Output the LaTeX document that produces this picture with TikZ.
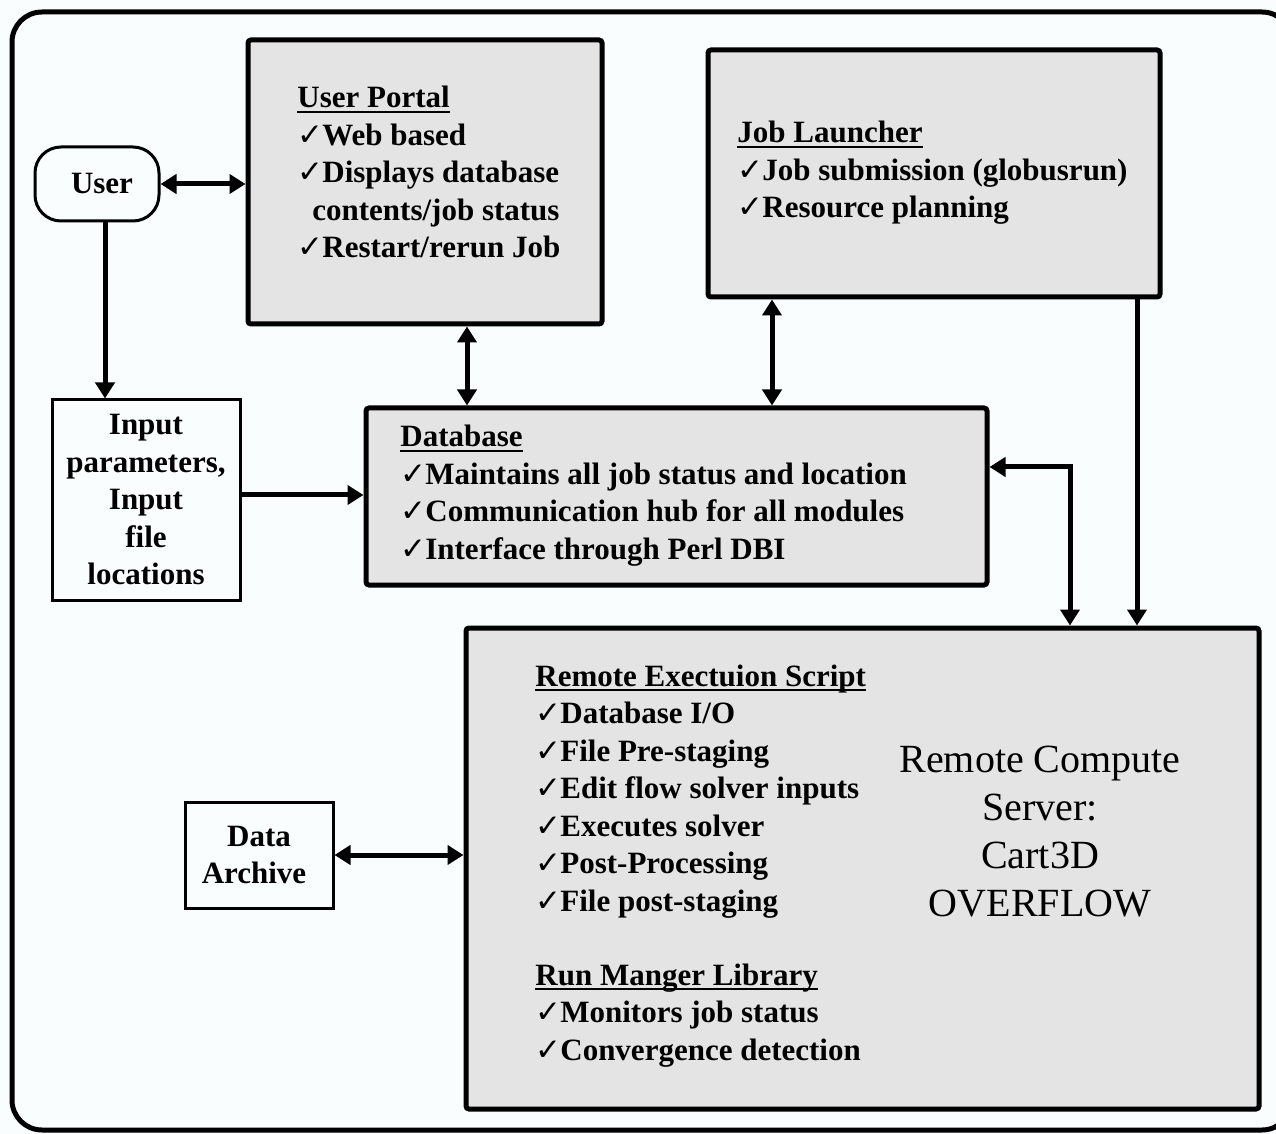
\documentclass[tikz,border=0pt]{standalone}
\usepackage{fontspec}
\setmainfont{Liberation Serif}
\newfontfamily\ckfont{DejaVu Sans}
\usetikzlibrary{arrows.meta}
\definecolor{boxgray}{RGB}{228,228,228}
\definecolor{bgc}{RGB}{250,253,253}
\newcommand\ck{{\ckfont\char"2713}\kern-0.5pt}
\newcommand\ulx[1]{\setbox0\hbox{#1}\rlap{\rule[-2.5pt]{\wd0}{1pt}}\box0}
\newcommand\btxt{\fontsize{15.5pt}{18.75pt}\selectfont\bfseries}
\newcommand\rtxt{\fontsize{20pt}{24pt}\selectfont}
\begin{document}
\begin{tikzpicture}[x=0.5pt,y=-0.5pt,
  bigbox/.style={draw, line width=2.5pt, fill=boxgray, rounded corners=1.5pt, inner sep=0},
  smallbox/.style={draw, line width=1.5pt, fill=bgc, inner sep=0, align=center, font=\btxt},
  blocktext/.style={font=\btxt, align=left, anchor=base west, inner sep=0},
  arr/.style={line width=2.5pt, -{Triangle[length=8pt,width=9.5pt]}},
  darr/.style={line width=2.5pt, {Triangle[length=8pt,width=9.5pt]}-{Triangle[length=8pt,width=9.5pt]}}]
\useasboundingbox[fill=bgc] (0,0) rectangle (1276,1134);
\draw[line width=2.5pt, rounded corners=15pt] (12,12) rectangle (1292,1130);

% boxes
\node[bigbox, minimum width=177pt, minimum height=142pt] (portal) at (425,182) {};
\node[bigbox, minimum width=226pt, minimum height=123.5pt] (job) at (934,173.5) {};
\node[bigbox, minimum width=310.5pt, minimum height=88.5pt] (db) at (676.5,496.5) {};
\node[bigbox, minimum width=396.5pt, minimum height=240.5pt] (remote) at (862.5,868.5) {};
\node[smallbox, rounded corners=13pt, minimum width=62pt, minimum height=37pt] (user) at (97,184) {\hspace*{5pt}User};
\node[smallbox, minimum width=94pt, minimum height=100pt] (input) at (146,500)
  {Input\\parameters,\\Input\\file\\locations};
\node[smallbox, minimum width=74pt, minimum height=53pt] (archive) at (259,855) {Data\\Archive\hspace*{5pt}};

% texts (base anchor = baseline of the last line)
\node[blocktext] (pt) at (297,258) {\ulx{User Portal}\\\ck Web based\\\ck Displays database\\\hspace*{7.5pt}contents/job status\\\ck Restart/rerun Job};
\node[blocktext] (jt) at (737,218) {\ulx{Job Launcher}\\\ck Job submission (globusrun)\\\ck Resource planning};
\node[blocktext] (dt) at (400,559.5) {\ulx{Database}\\\ck Maintains all job status and location\\\ck Communication hub for all modules\\\ck Interface through Perl DBI};
\node[blocktext] (rt) at (535,911) {\ulx{Remote Exectuion Script}\\\ck Database I/O\\\ck File Pre-staging\\\ck Edit flow solver inputs\\\ck Executes solver\\\ck Post-Processing\\\ck File post-staging};
\node[blocktext] (rmt) at (535,1060) {\ulx{Run Manger Library}\\\ck Monitors job status\\\ck Convergence detection};
\node[font=\rtxt, align=center, inner sep=0] (server) at (1040,832) {Remote Compute\\Server:\\Cart3D\\OVERFLOW};

% connectors
\draw[darr] (user.east) -- (user.east -| portal.west);
\coordinate (ud) at ([xshift=4pt]user.south);
\draw[arr] (ud) -- (ud |- input.north);
\coordinate (ie) at ([yshift=2.5pt]input.east);
\draw[arr] (ie) -- (ie -| db.west);
\coordinate (pd) at ([xshift=21pt]portal.south);
\draw[darr] (pd) -- (pd |- db.north);
\coordinate (jd) at ([xshift=-81pt]job.south);
\draw[darr] (jd) -- (jd |- db.north);
\coordinate (de) at ([yshift=14.75pt]db.east);
\coordinate (rn) at ([xshift=103.75pt]remote.north);
\draw[darr] (de) -| (rn);
\coordinate (js) at ([xshift=101.5pt]job.south);
\draw[arr] (js) -- (js |- remote.north);
\draw[darr] (archive.east) -- (archive.east -| remote.west);
\end{tikzpicture}
\end{document}
